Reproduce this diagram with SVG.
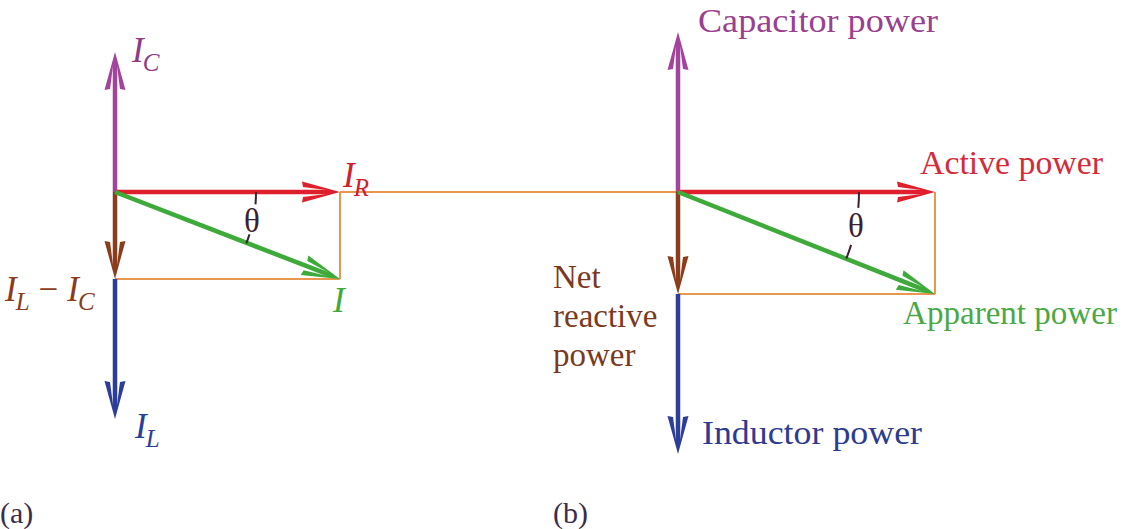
<svg xmlns="http://www.w3.org/2000/svg" width="1122" height="529" viewBox="0 0 1122 529">
<style>
.t{font-family:"Liberation Serif","Times New Roman",serif;}
.it{font-family:"Liberation Serif","Times New Roman",serif;font-style:italic;}
.big{font-size:33px;}
.sym{font-size:35px;}
.sub{font-size:25px;}
.th{font-size:33px;fill:#3a2030;}
.aux{stroke:#E8974E;stroke-width:2;fill:none;}
.arc{stroke:#3a2030;stroke-width:2;fill:none;}
.shaft{stroke-width:4.5;fill:none;}
</style>
<defs>
<marker id="hP" markerUnits="userSpaceOnUse" viewBox="-40 -15 60 30" markerWidth="60" markerHeight="30" refX="0" refY="0" orient="auto"><path d="M10,0 L-28,-10.5 L-27,-5 L-4,-2 L-4,2 L-27,5 L-28,10.5 Z" fill="#A3449C"/></marker>
<marker id="hR" markerUnits="userSpaceOnUse" viewBox="-40 -15 60 30" markerWidth="60" markerHeight="30" refX="0" refY="0" orient="auto"><path d="M10,0 L-28,-10.5 L-27,-5 L-4,-2 L-4,2 L-27,5 L-28,10.5 Z" fill="#E01F2D"/></marker>
<marker id="hG" markerUnits="userSpaceOnUse" viewBox="-40 -15 60 30" markerWidth="60" markerHeight="30" refX="0" refY="0" orient="auto"><path d="M10,0 L-28,-10.5 L-27,-5 L-4,-2 L-4,2 L-27,5 L-28,10.5 Z" fill="#3DAA3A"/></marker>
<marker id="hB" markerUnits="userSpaceOnUse" viewBox="-40 -15 60 30" markerWidth="60" markerHeight="30" refX="0" refY="0" orient="auto"><path d="M10,0 L-28,-10.5 L-27,-5 L-4,-2 L-4,2 L-27,5 L-28,10.5 Z" fill="#8A3C1C"/></marker>
<marker id="hN" markerUnits="userSpaceOnUse" viewBox="-40 -15 60 30" markerWidth="60" markerHeight="30" refX="0" refY="0" orient="auto"><path d="M10,0 L-28,-10.5 L-27,-5 L-4,-2 L-4,2 L-27,5 L-28,10.5 Z" fill="#2D3E98"/></marker>
</defs>
<rect width="1122" height="529" fill="#ffffff"/>
<g id="connectors">
<line class="aux" x1="115" y1="279" x2="340" y2="279"/>
<line class="aux" x1="340" y1="192" x2="340" y2="279"/>
<line class="aux" x1="340" y1="192" x2="678" y2="192"/>
<line class="aux" x1="678" y1="294" x2="935" y2="294"/>
<line class="aux" x1="935" y1="192" x2="935" y2="294"/>
<line class="shaft" stroke="#A3449C" x1="115" y1="192" x2="115" y2="62" marker-end="url(#hP)"/>
<line class="shaft" stroke="#2D3E98" x1="115" y1="279" x2="115" y2="409" marker-end="url(#hN)"/>
<line class="shaft" stroke="#8A3C1C" x1="115" y1="192" x2="115" y2="269" marker-end="url(#hB)"/>
<line class="shaft" stroke="#E01F2D" x1="115" y1="192" x2="330" y2="192" marker-end="url(#hR)"/>
<line class="shaft" stroke="#3DAA3A" x1="115" y1="192" x2="330.7" y2="275.4" marker-end="url(#hG)"/>
<line class="shaft" stroke="#A3449C" x1="678" y1="192" x2="678" y2="42" marker-end="url(#hP)"/>
<line class="shaft" stroke="#2D3E98" x1="678" y1="294" x2="678" y2="444" marker-end="url(#hN)"/>
<line class="shaft" stroke="#8A3C1C" x1="678" y1="192" x2="678" y2="284" marker-end="url(#hB)"/>
<line class="shaft" stroke="#E01F2D" x1="678" y1="192" x2="925" y2="192" marker-end="url(#hR)"/>
<line class="shaft" stroke="#3DAA3A" x1="678" y1="192" x2="925.7" y2="290.3" marker-end="url(#hG)"/>
<path class="arc" d="M256,192 A141,141 0 0 1 255.5,204.3"/>
<path class="arc" d="M249.5,234.4 A141,141 0 0 1 246.3,243.4"/>
<path class="arc" d="M859,192 A181,181 0 0 1 858.3,207.8"/>
<path class="arc" d="M851.1,244.9 A181,181 0 0 1 846.3,258.6"/>
</g>
<g id="label-a">
<g id="IC"><text class="it sym" x="132" y="62" fill="#8E3A86">I<tspan class="sub" dx="-1" dy="9">C</tspan></text></g>
<g id="IR"><text class="it sym" x="343" y="187" fill="#D0202E">I<tspan class="sub" dx="-1" dy="9">R</tspan></text></g>
<g id="theta-a"><text class="t th" x="252" y="232" text-anchor="middle">θ</text></g>
<g id="ILIC"><text class="it sym" x="5" y="301" fill="#8A3C1C">I<tspan class="sub" dx="-1" dy="9">L</tspan><tspan dx="9" dy="-9" font-style="normal">−</tspan><tspan dx="9">I</tspan><tspan class="sub" dx="-1" dy="9">C</tspan></text></g>
<g id="I"><text class="it sym" x="333" y="312" fill="#3DAA3A">I</text></g>
<g id="IL"><text class="it sym" x="135" y="438" fill="#2D3E98">I<tspan class="sub" dx="-1" dy="9">L</tspan></text></g>
<g id="a"><text class="t" x="0" y="523" font-size="30" fill="#3a2d4a">(a)</text></g>
</g>
<g id="label-b">
<g id="cap"><text class="t big" x="698" y="32" textLength="240" lengthAdjust="spacingAndGlyphs" fill="#9B3F8F">Capacitor power</text></g>
<g id="act"><text class="t big" x="920" y="174" textLength="183" lengthAdjust="spacingAndGlyphs" fill="#D42A3A">Active power</text></g>
<g id="app"><text class="t big" x="903" y="324" textLength="214" lengthAdjust="spacingAndGlyphs" fill="#4AA845">Apparent power</text></g>
<g id="net"><text class="t big" fill="#7B3A1E"><tspan x="553" y="288">Net</tspan><tspan x="553" y="327">reactive</tspan><tspan x="553" y="366">power</tspan></text></g>
<g id="ind"><text class="t big" x="702" y="444" textLength="220" lengthAdjust="spacingAndGlyphs" fill="#2E3B8E">Inductor power</text></g>
<g id="theta-b"><text class="t th" x="856" y="237" text-anchor="middle">θ</text></g>
<g id="b"><text class="t" x="553" y="523" font-size="30" fill="#3a2d4a">(b)</text></g>
</g>
</svg>
